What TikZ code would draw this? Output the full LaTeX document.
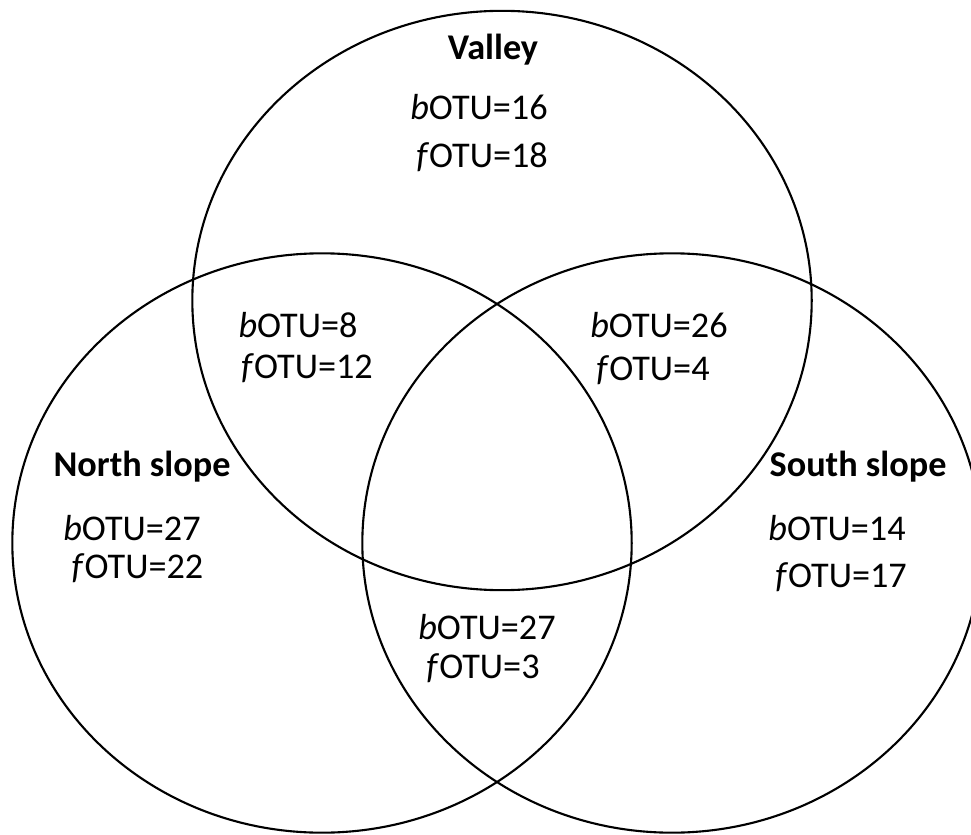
\documentclass[tikz,border=0pt]{standalone}
\usepackage{fontspec}
\setmainfont{Carlito}
\usepackage{tikz}

\tikzset{
    setline/.style={line width=0.6pt},
    setname/.style={font=\fontsize{10.3}{12}\selectfont\bfseries},
    otucount/.style={font=\fontsize{10.3}{12}\selectfont},
}
\newcommand{\bcount}[1]{\textit{b}OTU=#1}
\newcommand{\fcount}[1]{\textit{f}OTU=#1}

\begin{document}
\begin{tikzpicture}[x=0.01cm, y=-0.01cm]
    % 0. Frame of the picture (the right set runs past the edge)
    \useasboundingbox (0,0) rectangle (971,834);
    \clip (0,0) rectangle (971,834);

    % 1. The three sets
    \draw[setline] (502,300.5) ellipse [x radius=3.095cm, y radius=2.895cm]; % Valley
    \draw[setline] (322,543) ellipse [x radius=3.095cm, y radius=2.895cm];   % North slope
    \draw[setline] (672,543) ellipse [x radius=3.095cm, y radius=2.895cm];   % South slope

    % 2. Valley only
    \node[setname] (valley) at (493,50) {Valley};
    \node[otucount] (valleyb) at (479,107) {\bcount{16}};
    \node[otucount] (valleyf) at (482,157) {\fcount{18}};

    % 3. North slope only
    \node[setname] (north) at (142,467) {North slope};
    \node[otucount] (northb) at (132,528) {\bcount{27}};
    \node[otucount] (northf) at (137.5,568) {\fcount{22}};

    % 4. South slope only
    \node[setname] (south) at (858,467) {South slope};
    \node[otucount] (southb) at (837,528) {\bcount{14}};
    \node[otucount] (southf) at (841,577) {\fcount{17}};

    % 5. Overlaps of two sets
    % Valley and North slope
    \node[otucount] (vnb) at (298,325) {\bcount{8}};
    \node[otucount] (vnf) at (307,368) {\fcount{12}};
    % Valley and South slope
    \node[otucount] (vsb) at (659,325) {\bcount{26}};
    \node[otucount] (vsf) at (653,370) {\fcount{4}};
    % North slope and South slope
    \node[otucount] (nsb) at (487,627) {\bcount{27}};
    \node[otucount] (nsf) at (483,668) {\fcount{3}};

\end{tikzpicture}
\end{document}
